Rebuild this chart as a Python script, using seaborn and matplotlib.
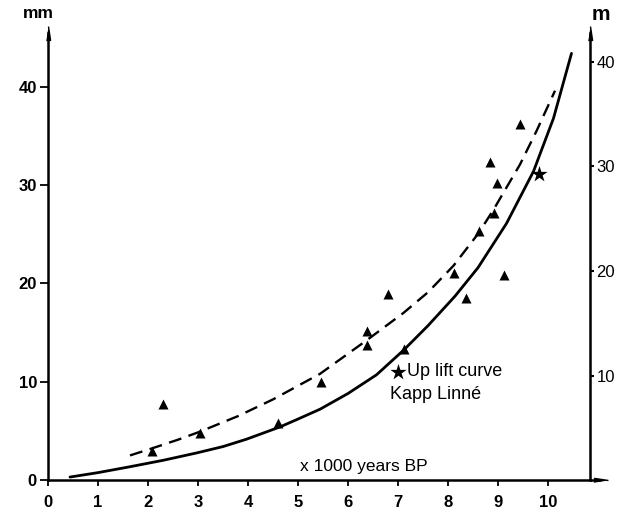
import matplotlib
matplotlib.use("Agg")
import matplotlib.pyplot as plt
import seaborn as sns

# Triangles: observations in mm against age (x 1000 years BP)
tri_age = [2.07, 2.29, 3.03, 4.60, 5.45, 6.37, 6.37, 6.79, 7.11, 8.11, 8.37, 8.61, 8.84, 8.92, 8.97, 9.12, 9.44]
tri_mm = [2.95, 7.7, 4.75, 5.8, 10.0, 13.7, 15.2, 18.9, 13.3, 21.1, 18.5, 25.3, 32.3, 27.2, 30.2, 20.9, 36.2]

# Stars: Kapp Linné uplift in metres (right axis)
star_age = [7.0, 9.82]
star_m = [10.3, 29.3]

# Solid curve (mm)
solid_age = [0.44, 1.0, 1.64, 2.3, 2.97, 3.5, 3.97, 4.64, 5.0, 5.44, 6.0, 6.57, 7.11, 7.6, 8.14, 8.6, 9.17, 9.71, 10.11, 10.47]
solid_mm = [0.3, 0.75, 1.35, 2.0, 2.75, 3.4, 4.15, 5.4, 6.2, 7.2, 8.8, 10.7, 13.2, 15.7, 18.7, 21.6, 26.1, 31.4, 36.8, 43.4]

# Dashed curve (mm)
dash_age = [1.64, 2.07, 2.6, 3.03, 3.8, 4.5, 5.44, 6.37, 7.11, 7.6, 8.11, 8.61, 8.91, 9.44, 9.77, 10.14]
dash_mm = [2.5, 3.2, 4.1, 4.9, 6.5, 8.2, 10.8, 14.2, 17.0, 19.1, 21.8, 25.1, 27.5, 32.1, 35.5, 39.6]

x_ticks = list(range(0, 11))
left_ticks = [0, 10, 20, 30, 40]
right_ticks = [10, 20, 30, 40]

sns.set_theme(style="ticks", rc={
    "axes.edgecolor": "black",
    "xtick.color": "black",
    "ytick.color": "black",
    "text.color": "black",
})
plt.rcParams["font.family"] = ["Liberation Sans", "DejaVu Sans"]

W, H = 626, 515
fig = plt.figure(figsize=(W / 100, H / 100), dpi=100)
left_px, right_px, bottom_px, top_px = 48, 590, 480, 33
ax = fig.add_axes([left_px / W, (H - bottom_px) / H,
                   (right_px - left_px) / W, (bottom_px - top_px) / H])
ax.set_xlim(0, 10.84)
ax.set_ylim(0, (bottom_px - top_px) / 9.83)

sns.lineplot(x=solid_age, y=solid_mm, ax=ax, color="black", lw=2.0,
             sort=False, estimator=None)
sns.lineplot(x=dash_age, y=dash_mm, ax=ax, color="black", lw=1.7,
             sort=False, estimator=None, linestyle=(0, (5.5, 3.2)))
sns.scatterplot(x=tri_age, y=tri_mm, ax=ax, marker="^", s=52,
                color="black", edgecolor="black", linewidth=0, zorder=3)

ax2 = ax.twinx()
ax2.set_ylim(0, (bottom_px - top_px) / 10.45)
sns.scatterplot(x=star_age, y=star_m, ax=ax2, marker="*", s=150,
                color="black", edgecolor="black", linewidth=0, zorder=3)

# Spines
for s in ["top", "right"]:
    ax.spines[s].set_visible(False)
for s in ["top", "left", "bottom"]:
    ax2.spines[s].set_visible(False)
for sp in [ax.spines["left"], ax.spines["bottom"], ax2.spines["right"]]:
    sp.set_linewidth(1.8)
    sp.set_color("black")

# Arrow heads on the axis lines
up_arrow = [(-0.3, -1), (0.3, -1), (0, 1)]
right_arrow = [(-1, -0.3), (-1, 0.3), (1, 0)]
ax.plot([0], [1], marker=up_arrow, ms=10, color="black",
        transform=ax.transAxes, clip_on=False)
ax2.plot([1], [1], marker=up_arrow, ms=10, color="black",
         transform=ax2.transAxes, clip_on=False)
ax.plot([1, 1.02], [0, 0], color="black", lw=1.8,
        transform=ax.transAxes, clip_on=False, solid_capstyle="butt")
ax.plot([1.02], [0], marker=right_arrow, ms=10, color="black",
        transform=ax.transAxes, clip_on=False)

# Ticks and labels
ax.set_xticks(x_ticks)
ax.set_yticks(left_ticks)
ax2.set_yticks(right_ticks)
ax.tick_params(axis="x", direction="out", length=4.5, width=1.3, pad=6, labelsize=12)
ax.tick_params(axis="y", direction="out", length=6, width=1.3, pad=2, labelsize=12)
ax2.tick_params(axis="y", direction="out", length=3, width=1.5, pad=1.5, labelsize=12)
plt.setp(ax.get_xticklabels(), fontweight="bold")
plt.setp(ax.get_yticklabels(), fontweight="bold")
ax.set_xlabel("")
ax.set_ylabel("")
ax2.set_ylabel("")

fig.text(38 / W, 1 - 14 / H, "mm", ha="center", va="center",
         fontsize=12.5, fontweight="bold")
fig.text(601 / W, 1 - 15 / H, "m", ha="center", va="center",
         fontsize=15, fontweight="bold")

ax.text(5.04, 1.35, "x 1000 years BP", ha="left", va="center", fontsize=12.5)
ax.text(7.18, 11.0, "Up lift curve", ha="left", va="center", fontsize=13)
ax.text(6.84, 8.65, "Kapp Linné", ha="left", va="center", fontsize=13)

fig.savefig("out.png", dpi=100)
